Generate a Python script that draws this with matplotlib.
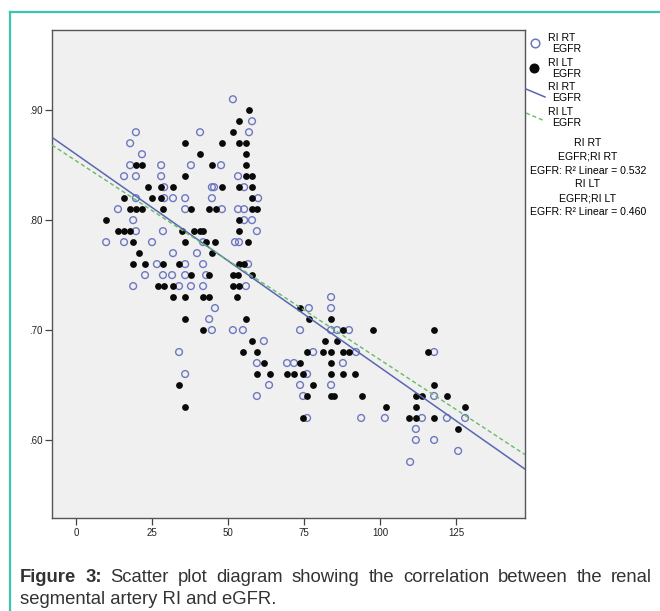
import matplotlib
matplotlib.use("Agg")
import matplotlib.pyplot as plt
from matplotlib.lines import Line2D
import numpy as np

plt.rcParams["font.family"] = ["Liberation Sans", "DejaVu Sans"]

W, H = 660, 611

# RI RT (open circles), listed row by row from the top of the plot
rt_egfr = [
    51.6,
    57.9,
    19.7, 40.8, 56.9,
    17.8,
    21.7,
    17.8, 28.0, 37.8, 47.7,
    15.8, 19.7, 28.0, 53.3,
    29.0, 44.7, 45.4, 55.3,
    19.7, 29.0, 31.9, 35.9, 44.7, 59.9,
    13.8, 35.9, 48.0, 53.3, 55.3,
    18.8, 55.3, 57.9,
    19.7, 28.6, 59.5,
    9.9, 15.8, 25.0, 41.8, 52.3, 53.6,
    31.9, 39.8,
    26.6, 35.9, 41.8, 56.6,
    22.7, 28.6, 31.6, 35.9, 42.8,
    18.8, 33.9, 37.8, 41.8, 55.9,
    83.9,
    45.7, 76.6, 83.9,
    43.8,
    44.7, 51.6, 54.9, 73.7, 83.9, 85.9, 89.8,
    61.8,
    33.9, 78.0, 92.1, 117.8,
    59.5, 69.4, 71.7, 87.8,
    35.9, 76.0,
    63.5, 73.7, 83.9,
    59.5, 74.7, 117.8,
    76.0, 93.8, 101.6, 113.8, 122.0, 128.0,
    111.8,
    111.8, 117.8,
    125.7,
    109.9,
]
rt_ri = [
    .91,
    .89,
    .88, .88, .88,
    .87,
    .86,
    .85, .85, .85, .85,
    .84, .84, .84, .84,
    .83, .83, .83, .83,
    .82, .82, .82, .82, .82, .82,
    .81, .81, .81, .81, .81,
    .80, .80, .80,
    .79, .79, .79,
    .78, .78, .78, .78, .78, .78,
    .77, .77,
    .76, .76, .76, .76,
    .75, .75, .75, .75, .75,
    .74, .74, .74, .74, .74,
    .73,
    .72, .72, .72,
    .71,
    .70, .70, .70, .70, .70, .70, .70,
    .69,
    .68, .68, .68, .68,
    .67, .67, .67, .67,
    .66, .66,
    .65, .65, .65,
    .64, .64, .64,
    .62, .62, .62, .62, .62, .62,
    .61,
    .60, .60,
    .59,
    .58,
]

# RI LT (filled circles)
lt_egfr = [
    56.9,
    53.6,
    51.6,
    35.9, 48.0, 53.6, 55.9,
    40.8, 55.9,
    19.7, 21.7, 44.7, 55.9,
    35.9, 55.9, 57.9,
    23.7, 27.8, 31.8, 48.0, 53.6, 57.9,
    15.8, 25.0, 28.0, 57.9,
    17.8, 19.7, 21.7, 28.6, 37.8, 43.8, 46.0, 57.9, 59.5,
    9.9, 53.6,
    13.8, 15.8, 17.8, 34.9, 38.8, 40.8, 41.8, 53.6,
    18.8, 35.9, 42.9, 45.8, 56.6,
    20.7, 44.7,
    18.8, 22.7, 28.6, 34.0, 53.6, 55.3,
    37.8, 43.8, 51.6, 53.3, 57.9,
    27.0, 29.0, 31.8, 51.6, 53.6,
    31.9, 35.9, 41.8, 43.8, 53.0,
    73.7,
    35.9, 55.9, 76.6, 83.9,
    41.8, 87.8, 97.7, 117.8,
    57.9, 81.9, 85.9,
    54.9, 59.5, 76.0, 81.3, 83.9, 87.8, 89.8, 115.8,
    61.8, 73.7, 83.9,
    59.5, 63.8, 69.4, 71.7, 74.7, 83.9, 87.8, 91.8,
    33.9, 78.0, 117.8,
    76.0, 83.9, 84.9, 94.1, 111.8, 113.8, 122.0,
    35.9, 102.0, 111.8, 128.0,
    74.7, 109.5, 111.8, 117.8,
    125.7,
]
lt_ri = [
    .90,
    .89,
    .88,
    .87, .87, .87, .87,
    .86, .86,
    .85, .85, .85, .85,
    .84, .84, .84,
    .83, .83, .83, .83, .83, .83,
    .82, .82, .82, .82,
    .81, .81, .81, .81, .81, .81, .81, .81, .81,
    .80, .80,
    .79, .79, .79, .79, .79, .79, .79, .79,
    .78, .78, .78, .78, .78,
    .77, .77,
    .76, .76, .76, .76, .76, .76,
    .75, .75, .75, .75, .75,
    .74, .74, .74, .74, .74,
    .73, .73, .73, .73, .73,
    .72,
    .71, .71, .71, .71,
    .70, .70, .70, .70,
    .69, .69, .69,
    .68, .68, .68, .68, .68, .68, .68, .68,
    .67, .67, .67,
    .66, .66, .66, .66, .66, .66, .66, .66,
    .65, .65, .65,
    .64, .64, .64, .64, .64, .64, .64,
    .63, .63, .63, .63,
    .62, .62, .62, .62,
    .61,
]

# fit lines as drawn in the picture: (intercept, slope)
rt_fit = (0.860, -0.00194)
lt_fit = (0.854, -0.00181)
r2_rt = 0.532
r2_lt = 0.460

x_ticks = [0, 25, 50, 75, 100, 125]
y_ticks = [0.60, 0.70, 0.80, 0.90]
y_tick_labels = [".60", ".70", ".80", ".90"]
x_range = (-7.9, 147.7)
y_range = (0.529, 0.973)

OPEN_C = "#6e78c0"
LINE_RT = "#5867b0"
LINE_LT = "#66bb66"
TEAL = "#3ec3b2"


def fx(px):
    return px / W


def fy(py):
    return 1 - py / H


fig = plt.figure(figsize=(W / 100, H / 100), dpi=100)
fig.patch.set_facecolor("white")

# teal frame of the figure panel
fig.add_artist(Line2D([fx(10), fx(10)], [fy(12), 0], color=TEAL, lw=1.6))
fig.add_artist(Line2D([fx(10), 1], [fy(12), fy(12)], color=TEAL, lw=1.6))

ax = fig.add_axes([fx(52), fy(518), fx(525) - fx(52), fy(30) - fy(518)])
ax.set_facecolor("#f0f0f0")

ax.scatter(rt_egfr, rt_ri, s=24, facecolors="none", edgecolors=OPEN_C,
           linewidths=1.0, zorder=3)
ax.scatter(lt_egfr, lt_ri, s=24, color="#0a0a0a", linewidths=0, zorder=3)

xs = np.array(x_range)
ax.plot(xs, rt_fit[0] + rt_fit[1] * xs, color=LINE_RT, lw=1.1, zorder=4)
ax.plot(xs, lt_fit[0] + lt_fit[1] * xs, color=LINE_LT, lw=1.0,
        dashes=(3, 2), zorder=4)

ax.set_xlim(*x_range)
ax.set_ylim(*y_range)
ax.set_xticks(x_ticks)
ax.set_yticks(y_ticks)
ax.set_yticklabels(y_tick_labels)
ax.tick_params(direction="out", length=5, width=0.9, color="#444",
               labelsize=7, labelcolor="#222", pad=2)
for sp in ax.spines.values():
    sp.set_color("#555")
    sp.set_linewidth(1.0)

# legend to the right of the plot
LS = 7.6
fig.add_artist(Line2D([fx(535)], [fy(43)], marker="o", ms=6.2, mfc="none",
                      mec=OPEN_C, mew=1.1, ls="none"))
fig.add_artist(Line2D([fx(534)], [fy(68)], marker="o", ms=6.2, mfc="#0a0a0a",
                      mec="#0a0a0a", ls="none"))
fig.add_artist(Line2D([fx(526), fx(545)], [fy(89), fy(97)], color=LINE_RT, lw=1.1))
fig.add_artist(Line2D([fx(526), fx(545)], [fy(113), fy(121)], color=LINE_LT,
                      lw=1.0, dashes=(3, 2)))
for (top, label) in [(38, "RI RT"), (63, "RI LT"), (87, "RI RT"), (112, "RI LT")]:
    fig.text(fx(548), fy(top), label, fontsize=LS, va="center", ha="left")
    fig.text(fx(552), fy(top + 11), "EGFR", fontsize=LS, va="center", ha="left")

info = ["RI RT", "EGFR;RI RT", f"EGFR: R² Linear = {r2_rt:.3f}",
        "RI LT", "EGFR;RI LT", f"EGFR: R² Linear = {r2_lt:.3f}"]
for k, line in enumerate(info):
    fig.text(fx(588), fy(143 + k * 13.8), line, fontsize=LS, va="center", ha="center")

# caption, first line justified to the panel width
renderer = fig.canvas.get_renderer()
CAP = 13.3
words = ["Figure", "3:", "Scatter", "plot", "diagram", "showing", "the",
         "correlation", "between", "the", "renal"]
texts = []
for i, w in enumerate(words):
    texts.append(fig.text(0, fy(577), w, fontsize=CAP, color="#333",
                          fontweight="bold" if i < 2 else "normal", va="center"))
widths = [t.get_window_extent(renderer).width for t in texts]
gap = (652 - 20 - sum(widths)) / (len(words) - 1)
x = 20
for t, wd in zip(texts, widths):
    t.set_x(fx(x))
    x += wd + gap
fig.text(fx(20), fy(599), "segmental artery RI and eGFR.", fontsize=CAP,
         color="#333", va="center")

fig.savefig("out.png", dpi=100)
